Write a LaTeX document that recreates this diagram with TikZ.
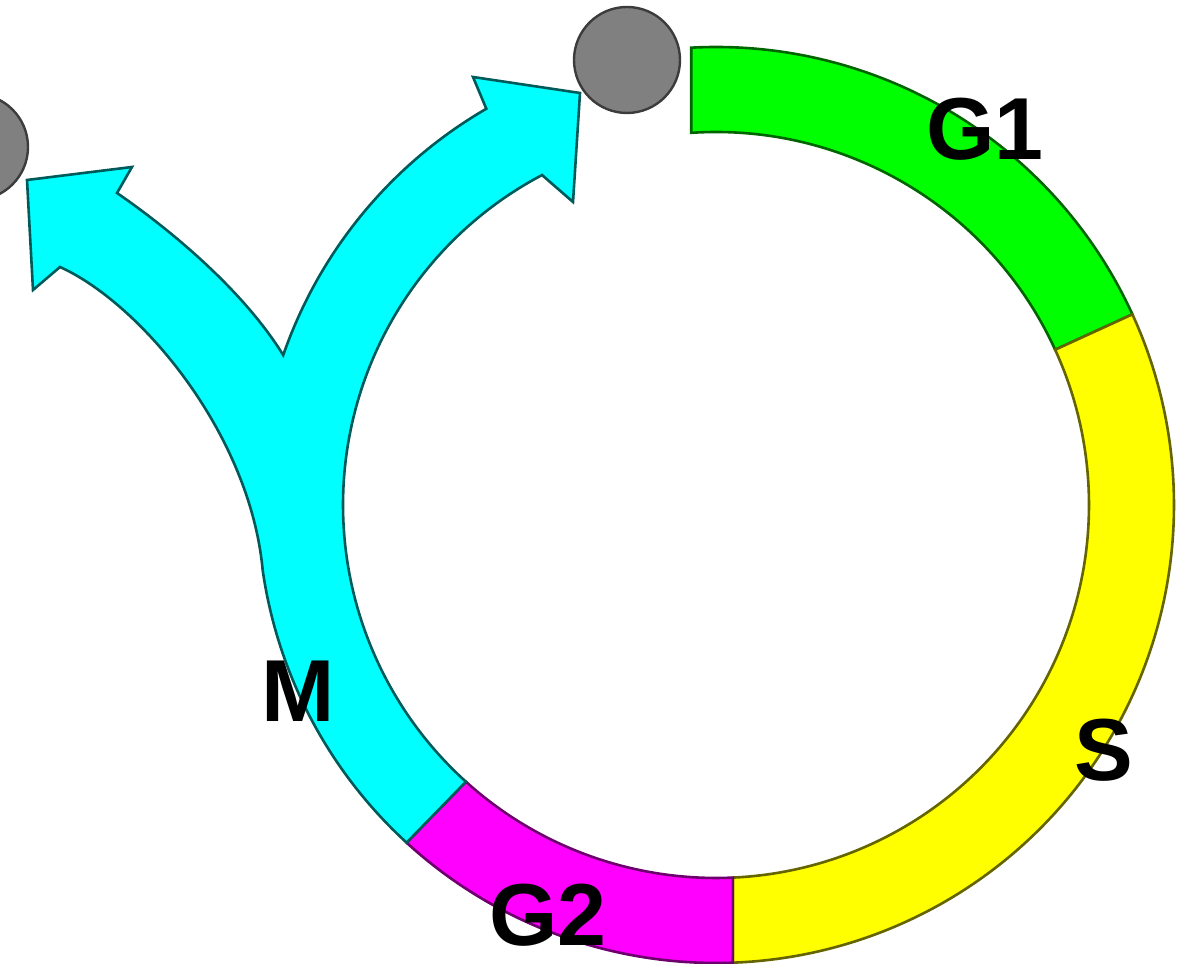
\documentclass[tikz,border=0pt]{standalone}
\usepackage{fontspec}
\setmainfont{Liberation Sans}
\usetikzlibrary{calc}
\definecolor{cG}{RGB}{0,255,0}
\definecolor{cGd}{RGB}{0,100,0}
\definecolor{cY}{RGB}{255,255,0}
\definecolor{cYd}{RGB}{100,100,0}
\definecolor{cP}{RGB}{255,0,255}
\definecolor{cPd}{RGB}{110,0,110}
\definecolor{cC}{RGB}{0,255,255}
\definecolor{cCd}{RGB}{0,90,90}
\definecolor{cGr}{RGB}{128,128,128}
\definecolor{cGrd}{RGB}{60,60,60}
\tikzset{
  seg/.style={line width=1.3pt, line join=miter},
  phaselabel/.style={font=\fontsize{44}{48}\selectfont\bfseries, inner sep=0pt, anchor=base, text=black},
  ball/.style={circle, fill=cGr, draw=cGrd, line width=1.2pt, minimum size=53pt, inner sep=0pt}
}
\begin{document}
\begin{tikzpicture}[x=0.5pt,y=0.5pt]
\useasboundingbox (0,0) rectangle (1193,963);
\clip (0,0) rectangle (1193,963);
\coordinate (C) at (716,458);
% G1
\draw[seg, fill=cG, draw=cGd] ($(C)+(24.6:458)$) arc[start angle=24.6,end angle=93.1,radius=458]
  -- ($(C)+(93.8:373)$) arc[start angle=93.8,end angle=24.6,radius=373] -- cycle;
% S
\draw[seg, fill=cY, draw=cYd] ($(C)+(-87.9:458)$) arc[start angle=-87.9,end angle=24.6,radius=458]
  -- ($(C)+(24.6:373)$) arc[start angle=24.6,end angle=-87.4,radius=373] -- cycle;
% G2
\draw[seg, fill=cP, draw=cPd] ($(C)+(-132.5:458)$) arc[start angle=-132.5,end angle=-87.9,radius=458]
  -- ($(C)+(-87.4:373)$) arc[start angle=-87.4,end angle=-132.1,radius=373] -- cycle;
% M with two arrows
\coordinate (Ln) at (60,696);
\coordinate (Lb) at (33,673);
\coordinate (Lt) at (27,783);
\coordinate (Lu) at (132,796);
\coordinate (Lm) at (117,770);
\coordinate (Ra) at (473,886);
\coordinate (Rt) at (580,870);
\coordinate (Rb) at (573,761);
\draw[seg, fill=cC, draw=cCd] ($(C)+(227.5:458)$) arc[start angle=227.5,end angle=188.2,radius=458]
  .. controls (250,530) and (140,660) .. (Ln) -- (Lb) -- (Lt) -- (Lu) -- (Lm)
  .. controls (175,730) and (245,670) .. ($(C)+(160.9:458)$)
  arc[start angle=160.9,end angle=120.1,radius=458]
  -- (Ra) -- (Rt) -- (Rb)
  -- ($(C)+(117.8:373)$) arc[start angle=117.8,end angle=227.9,radius=373] -- cycle;
% balls
\node[ball] (b1) at (627,903) {};
\node[ball] (b2) at (-25,816) {};
% labels
\node[phaselabel] (g1) at (985,803) {G1};
\node[phaselabel] (s) at (1104,182) {S};
\node[phaselabel] (m) at (298,241) {M};
\node[phaselabel] (g2) at (548,18) {G2};
\end{tikzpicture}
\end{document}
